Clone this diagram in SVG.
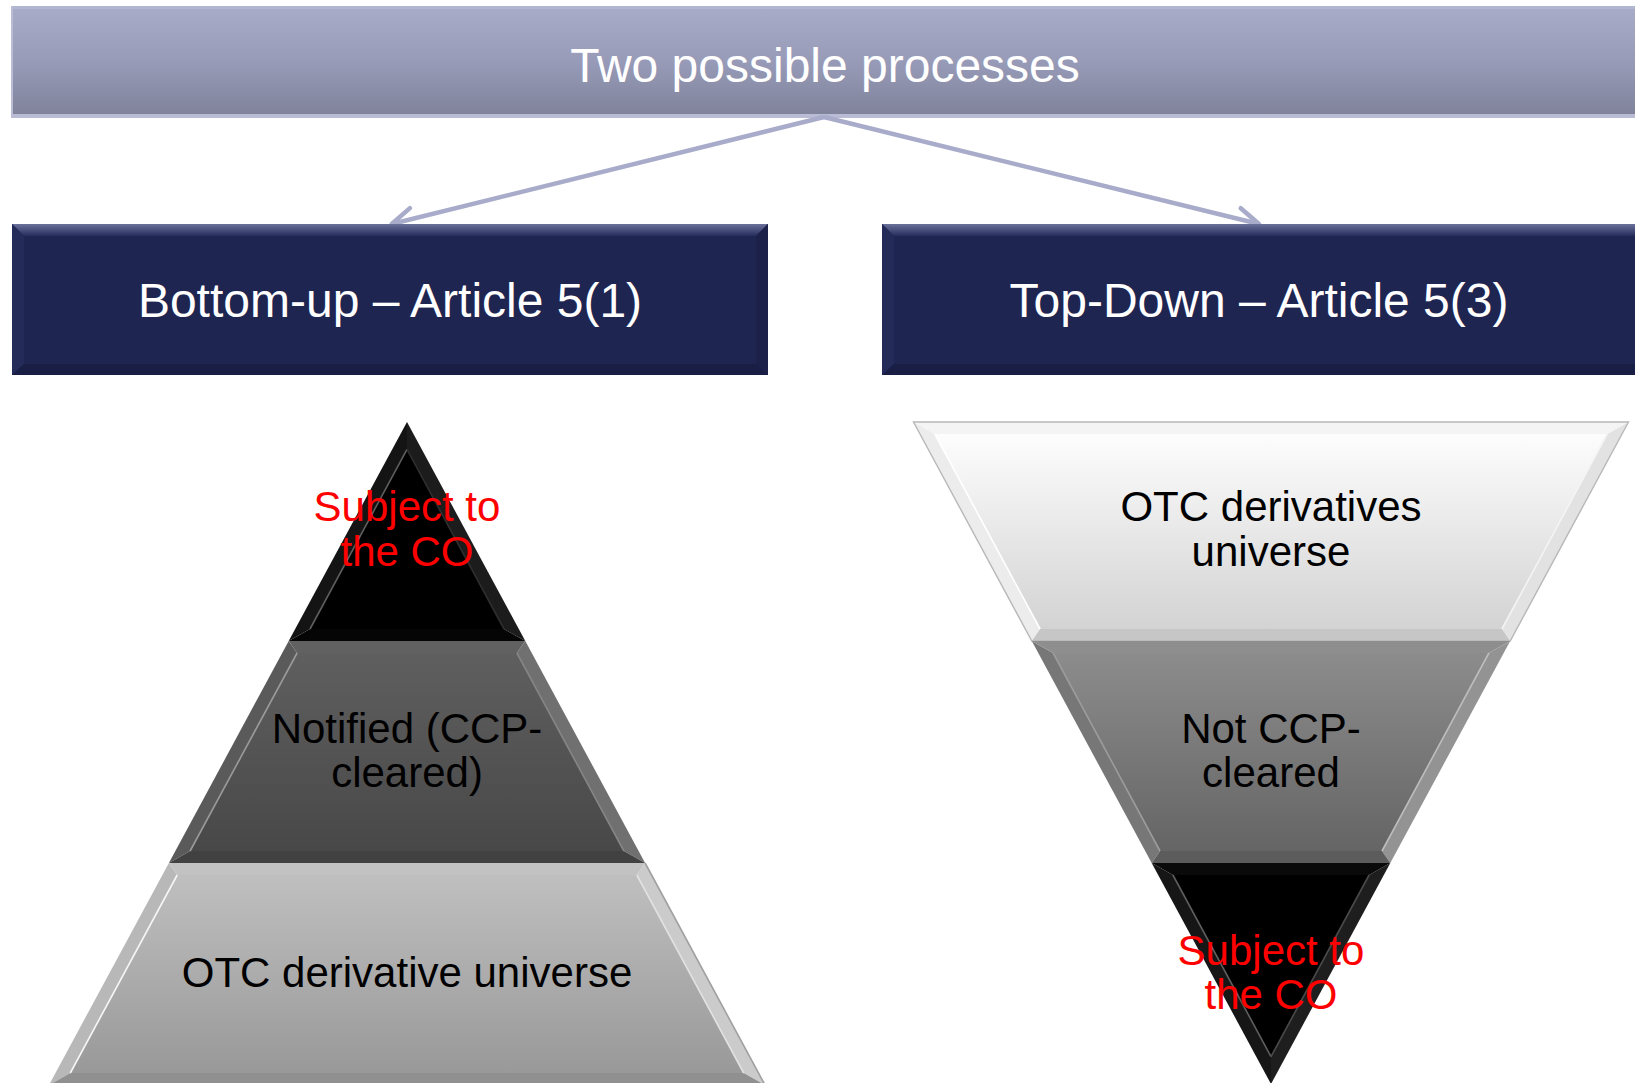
<svg xmlns="http://www.w3.org/2000/svg" width="1635" height="1083" viewBox="0 0 1635 1083">
<defs>
<linearGradient id="gTitle" x1="0" y1="0" x2="0" y2="1">
<stop offset="0" stop-color="#a8acc8"/><stop offset="0.5" stop-color="#989bb8"/><stop offset="1" stop-color="#7e8198"/>
</linearGradient>
<linearGradient id="gHdrTop" x1="0" y1="0" x2="0" y2="1">
<stop offset="0" stop-color="#6a719a"/><stop offset="1" stop-color="#262d5c"/>
</linearGradient>
<linearGradient id="gMidL" x1="0" y1="0" x2="0" y2="1">
<stop offset="0" stop-color="#5f5f5f"/><stop offset="1" stop-color="#484848"/>
</linearGradient>
<linearGradient id="gBotL" x1="0" y1="0" x2="0" y2="1">
<stop offset="0" stop-color="#bfbfbf"/><stop offset="1" stop-color="#999999"/>
</linearGradient>
<linearGradient id="gTopR" x1="0" y1="0" x2="0" y2="1">
<stop offset="0" stop-color="#fdfdfd"/><stop offset="1" stop-color="#d3d3d3"/>
</linearGradient>
<linearGradient id="gMidR" x1="0" y1="0" x2="0" y2="1">
<stop offset="0" stop-color="#8c8c8c"/><stop offset="1" stop-color="#656565"/>
</linearGradient>
<marker id="arr" markerUnits="userSpaceOnUse" viewBox="-4 -4 30 30" markerWidth="30" markerHeight="30" refX="22" refY="11" orient="auto">
<path d="M0.5,0 L22,11 L0.5,22" fill="none" stroke="#a8abc9" stroke-width="4.5" stroke-linecap="round" stroke-linejoin="round"/>
</marker>
<style>
text{font-family:"Liberation Sans",Arial,sans-serif;text-anchor:middle}
.hdr{fill:#ffffff;font-size:48px}
.ttl{fill:#ffffff;font-size:48px}
.lbl{fill:#000000;font-size:42px}
.red{fill:#ff0000;font-size:42px}
.conn{stroke:#a8abc9;stroke-width:4.5;fill:none}
.hl{fill:none;stroke-width:1.6}
</style>
</defs>
<rect width="1635" height="1083" fill="#ffffff"/>

<g id="title">
<rect x="11" y="6" width="1640" height="112" fill="url(#gTitle)"/>
<rect x="11" y="6" width="1640" height="3" fill="#b3b6d0"/>
<rect x="11" y="114" width="1640" height="4" fill="#b9bcd4"/>
<rect x="11" y="6" width="2" height="112" fill="#b9bcd4"/>
<text class="ttl" x="825" y="82">Two possible processes</text>
</g>

<g id="connectors">
<line class="conn" x1="824" y1="117" x2="391.7" y2="224" marker-end="url(#arr)"/>
<line class="conn" x1="824" y1="117" x2="1259" y2="224" marker-end="url(#arr)"/>
</g>

<g id="bottom-up">
<rect x="12" y="224" width="756" height="151" fill="#1f2551"/>
<polygon points="12,224 768,224 756,236 24,236" fill="url(#gHdrTop)"/>
<polygon points="12,224 24,236 24,364 12,375" fill="#252b58"/>
<polygon points="768,224 756,236 756,364 768,375" fill="#1b2149"/>
<polygon points="12,375 24,364 756,364 768,375" fill="#191e45"/>
<text class="hdr" x="390" y="317">Bottom-up – Article 5(1)</text>
</g>

<g id="top-down">
<rect x="882" y="224" width="770" height="151" fill="#1f2551"/>
<polygon points="882,224 1652,224 1640,236 894,236" fill="url(#gHdrTop)"/>
<polygon points="882,224 894,236 894,364 882,375" fill="#252b58"/>
<polygon points="882,375 894,364 1640,364 1652,375" fill="#191e45"/>
<text class="hdr" x="1259" y="317">Top-Down – Article 5(3)</text>
</g>

<g id="left-top">
<polygon points="407,449.4 504,629 310,629" fill="#000000"/>
<polygon points="407,422 288.7,641 310,629 407,449.4" fill="#141414"/>
<polygon points="407,422 525.3,641 504,629 407,449.4" fill="#1c1c1c"/>
<polygon points="288.7,641 525.3,641 504,629 310,629" fill="#050505"/>
<polyline class="hl" points="310,629 407,449.4" stroke="#5e5e5e"/>
<polyline class="hl" points="407,449.4 504,629" stroke="#2e2e2e"/>
<text class="red" x="407" y="521">Subject to</text>
<text class="red" x="407" y="566">the CO</text>
</g>

<g id="left-middle">
<polygon points="297.1,653 516.9,653 623.9,851 190.1,851" fill="url(#gMidL)"/>
<polygon points="288.7,641 297.1,653 190.1,851 168.9,863" fill="#5a5a5a"/>
<polygon points="525.3,641 645.1,863 623.9,851 516.9,653" fill="#707070"/>
<polygon points="288.7,641 525.3,641 516.9,653 297.1,653" fill="#616161"/>
<polygon points="168.9,863 645.1,863 623.9,851 190.1,851" fill="#414141"/>
<polyline class="hl" points="190.1,851 297.1,653" stroke="#9a9a9a"/>
<polyline class="hl" points="516.9,653 623.9,851" stroke="#858585"/>
<text class="lbl" x="407" y="743">Notified (CCP-</text>
<text class="lbl" x="407" y="787">cleared)</text>
</g>

<g id="left-bottom">
<polygon points="177.2,875 636.8,875 743.7,1073 70.3,1073" fill="url(#gBotL)"/>
<polygon points="168.9,863 177.2,875 70.3,1073 49,1085" fill="#b8b8b8"/>
<polygon points="645.1,863 765,1085 743.7,1073 636.8,875" fill="#cbcbcb"/>
<polygon points="168.9,863 645.1,863 636.8,875 177.2,875" fill="#c2c2c2"/>
<polygon points="49,1085 765,1085 743.7,1073 70.3,1073" fill="#909090"/>
<polyline class="hl" points="70.3,1073 177.2,875" stroke="#f6f6f6"/>
<polyline class="hl" points="636.8,875 743.7,1073" stroke="#e2e2e2"/>
<polyline class="hl" points="645.1,863 765,1085" stroke="#a0a0a0"/>
<text class="lbl" x="407" y="987">OTC derivative universe</text>
</g>

<g id="right-top">
<polygon points="934.8,434 1607.2,434 1501.9,629 1040.1,629" fill="url(#gTopR)"/>
<polygon points="913.5,422 934.8,434 1040.1,629 1031.8,641" fill="#ececec"/>
<polygon points="1628.5,422 1510.2,641 1501.9,629 1607.2,434" fill="#e2e2e2"/>
<polygon points="913.5,422 1628.5,422 1607.2,434 934.8,434" fill="#f4f4f4"/>
<polygon points="1031.8,641 1510.2,641 1501.9,629 1040.1,629" fill="#c6c6c6"/>
<polyline class="hl" points="934.8,434 1040.1,629" stroke="#ffffff"/>
<polyline class="hl" points="1607.2,434 1501.9,629" stroke="#f4f4f4"/>
<polygon points="913.5,422 1628.5,422 1510.2,641 1031.8,641" fill="none" stroke="#b8b8b8" stroke-width="1.4"/>
<text class="lbl" x="1271" y="521">OTC derivatives</text>
<text class="lbl" x="1271" y="566">universe</text>
</g>

<g id="right-middle">
<polygon points="1053.1,653 1488.9,653 1382,851 1160,851" fill="url(#gMidR)"/>
<polygon points="1031.8,641 1053.1,653 1160,851 1151.7,863" fill="#777777"/>
<polygon points="1510.2,641 1390.3,863 1382,851 1488.9,653" fill="#939393"/>
<polygon points="1031.8,641 1510.2,641 1488.9,653 1053.1,653" fill="#8e8e8e"/>
<polygon points="1151.7,863 1390.3,863 1382,851 1160,851" fill="#5c5c5c"/>
<polyline class="hl" points="1053.1,653 1160,851" stroke="#9c9c9c"/>
<polyline class="hl" points="1488.9,653 1382,851" stroke="#bdbdbd"/>
<text class="lbl" x="1271" y="743">Not CCP-</text>
<text class="lbl" x="1271" y="787">cleared</text>
</g>

<g id="right-bottom">
<polygon points="1172.9,875 1369.1,875 1271,1056.6" fill="#000000"/>
<polygon points="1151.7,863 1172.9,875 1271,1056.6 1271,1084" fill="#161616"/>
<polygon points="1390.3,863 1271,1084 1271,1056.6 1369.1,875" fill="#1e1e1e"/>
<polygon points="1151.7,863 1390.3,863 1369.1,875 1172.9,875" fill="#0a0a0a"/>
<polyline class="hl" points="1172.9,875 1271,1056.6" stroke="#5e5e5e"/>
<polyline class="hl" points="1369.1,875 1271,1056.6" stroke="#4a4a4a"/>
<text class="red" x="1271" y="965">Subject to</text>
<text class="red" x="1271" y="1009">the CO</text>
</g>
</svg>
